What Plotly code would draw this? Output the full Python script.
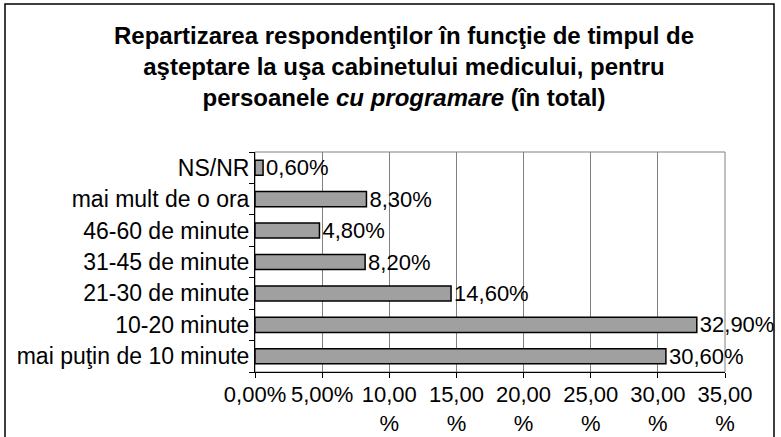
import plotly.graph_objects as go

categories = ["mai puţin de 10 minute", "10-20 minute", "21-30 de minute",
              "31-45 de minute", "46-60 de minute", "mai mult de o ora", "NS/NR"]
values = [30.6, 32.9, 14.6, 8.2, 4.8, 8.3, 0.6]
value_labels = ["30,60%", "32,90%", "14,60%", "8,20%", "4,80%", "8,30%", "0,60%"]
tick_vals = [0, 5, 10, 15, 20, 25, 30, 35]
tick_text = ["0,00%", "5,00%", "10,00<br>%", "15,00<br>%", "20,00<br>%",
             "25,00<br>%", "30,00<br>%", "35,00<br>%"]

FONT = "Liberation Sans, Arial, sans-serif"
W, H = 781, 437
L, T = 255, 152
pw, ph = 470, 220
R, B = W - L - pw, H - T - ph

def px2x(px):
    return (px - L) / pw

def py2y(py):
    return (T + ph - py) / ph

fig = go.Figure()
fig.add_trace(go.Bar(
    y=categories, x=values, orientation="h",
    marker=dict(color="#a0a0a0", line=dict(color="black", width=1.5)),
    text=value_labels, textposition="outside", constraintext="none",
    textfont=dict(family=FONT, size=22, color="black"),
    cliponaxis=False, width=0.48, hoverinfo="skip",
))

fig.update_layout(
    width=W, height=H,
    margin=dict(l=L, r=R, t=T, b=B, autoexpand=False),
    paper_bgcolor="white", plot_bgcolor="white",
    showlegend=False,
    font=dict(family=FONT, size=22, color="black"),
    title=dict(
        text="<b>Repartizarea respondenţilor în funcţie de timpul de<br>"
             "aşteptare la uşa cabinetului medicului, pentru<br>"
             "persoanele <i>cu programare</i> (în total)</b>",
        x=404 / W, xanchor="center", y=1 - 44 / H, yanchor="top",
        font=dict(family=FONT, size=24, color="black"),
    ),
    xaxis=dict(
        range=[0, 35], tickvals=tick_vals, ticktext=tick_text, tickangle=0,
        showgrid=True, gridcolor="#808080", gridwidth=1,
        showline=True, linecolor="black", linewidth=1,
        ticks="outside", ticklen=5, tickcolor="black", ticklabelstandoff=-2,
        zeroline=False, fixedrange=True, automargin=False,
        tickfont=dict(family=FONT, size=22, color="black"),
    ),
    yaxis=dict(
        type="category", categoryorder="array", categoryarray=categories,
        showgrid=False, showline=True, linecolor="black", linewidth=1,
        ticks="outside", ticklen=5, tickcolor="black", tickson="boundaries",
        tickfont=dict(family=FONT, size=23, color="black"),
        fixedrange=True, automargin=False,
    ),
    shapes=[
        dict(type="rect", xref="paper", yref="paper", x0=0, x1=1, y0=0, y1=1,
             line=dict(color="#808080", width=1), layer="below"),
        dict(type="rect", xref="paper", yref="paper",
             x0=px2x(5), x1=px2x(774), y0=py2y(4), y1=py2y(445),
             line=dict(color="black", width=1.5), layer="below"),
    ],
)

fig.write_html("out.html", config={"displayModeBar": False},
               post_script="document.body.style.margin='0';")
